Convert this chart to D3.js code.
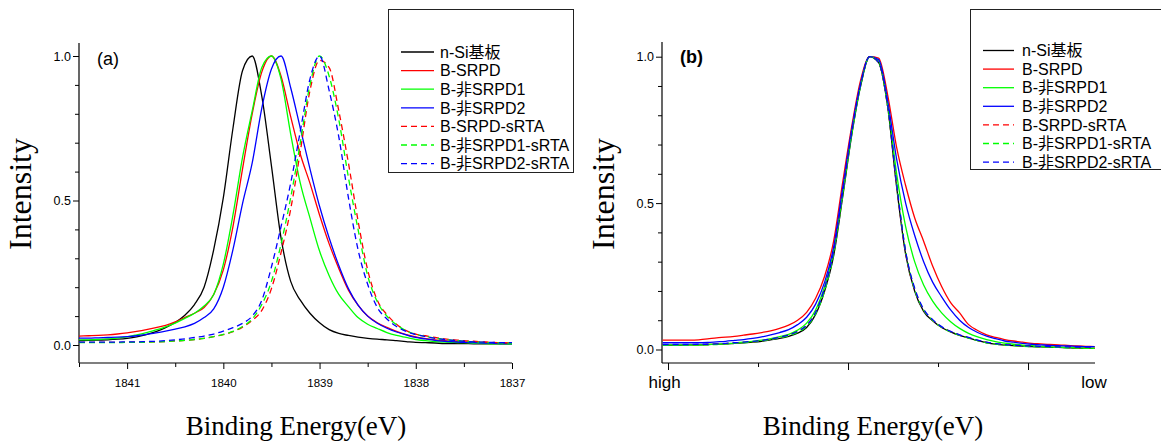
<!DOCTYPE html>
<html><head><meta charset="utf-8">
<script src="https://cdn.jsdelivr.net/npm/d3@7"></script>
<style>body{margin:0;background:#fff}svg{display:block}</style>
</head><body>
<svg id="chart" width="1161" height="446"></svg>
<script>
// ---------- data ----------
const seriesNames = ["n-Si基板","B-SRPD","B-非SRPD1","B-非SRPD2","B-SRPD-sRTA","B-非SRPD1-sRTA","B-非SRPD2-sRTA"];
const seriesColors = ["#000000","#ff0000","#00ff00","#0000ff","#ff0000","#00ff00","#0000ff"];
const seriesDashed = [false,false,false,false,true,true,true];

// panel (a): binding energy (eV)
const energyA = [1841.5,1841.4,1841.3,1841.2,1841.1,1841.0,1840.9,1840.8,1840.7,1840.6,1840.5,1840.4,1840.3,1840.2,1840.1,1840.0,1839.9,1839.8,1839.7,1839.6,1839.5,1839.4,1839.3,1839.2,1839.1,1839.0,1838.9,1838.8,1838.7,1838.6,1838.5,1838.4,1838.3,1838.2,1838.1,1838.0,1837.9,1837.8,1837.7,1837.6,1837.5,1837.4,1837.3,1837.2,1837.1,1837.0];
const nSiA = [0.015,0.016,0.017,0.018,0.020,0.023,0.028,0.036,0.046,0.060,0.078,0.103,0.140,0.200,0.330,0.510,0.750,0.950,1.000,0.860,0.620,0.370,0.220,0.155,0.110,0.077,0.053,0.040,0.033,0.027,0.023,0.020,0.018,0.015,0.012,0.009,0.008,0.007,0.005,0.005,0.005,0.004,0.004,0.004,0.004,0.004];
const srpdA = [0.031,0.032,0.033,0.035,0.038,0.042,0.047,0.053,0.060,0.068,0.080,0.095,0.110,0.130,0.175,0.26,0.41,0.61,0.80,0.945,1.0,0.93,0.79,0.66,0.56,0.45,0.35,0.265,0.19,0.138,0.10,0.077,0.061,0.047,0.036,0.028,0.022,0.018,0.015,0.013,0.011,0.010,0.009,0.008,0.007,0.007];
const hi1A = [0.018,0.018,0.019,0.021,0.024,0.028,0.035,0.043,0.052,0.063,0.076,0.092,0.110,0.135,0.175,0.28,0.45,0.65,0.81,0.96,1.0,0.92,0.73,0.56,0.44,0.325,0.24,0.175,0.133,0.095,0.072,0.057,0.043,0.033,0.026,0.019,0.015,0.012,0.010,0.009,0.008,0.006,0.005,0.004,0.004,0.003];
const hi2A = [0.024,0.024,0.025,0.026,0.027,0.029,0.032,0.037,0.042,0.048,0.055,0.063,0.075,0.095,0.125,0.20,0.33,0.49,0.63,0.82,0.955,1.0,0.89,0.75,0.61,0.48,0.37,0.275,0.195,0.138,0.10,0.075,0.058,0.045,0.035,0.026,0.021,0.016,0.013,0.011,0.009,0.008,0.007,0.006,0.005,0.005];
const srpdRtaA = [0.009,0.009,0.009,0.009,0.009,0.009,0.010,0.010,0.011,0.012,0.014,0.016,0.019,0.023,0.029,0.036,0.046,0.062,0.085,0.12,0.195,0.32,0.47,0.67,0.88,0.985,0.96,0.81,0.63,0.43,0.26,0.155,0.105,0.072,0.050,0.038,0.032,0.026,0.021,0.018,0.015,0.013,0.011,0.009,0.008,0.006];
const hi1RtaA = [0.008,0.008,0.008,0.008,0.008,0.009,0.009,0.010,0.011,0.012,0.014,0.016,0.019,0.023,0.029,0.037,0.047,0.064,0.09,0.14,0.22,0.35,0.51,0.70,0.90,1.0,0.93,0.78,0.58,0.40,0.24,0.15,0.10,0.070,0.049,0.037,0.030,0.024,0.019,0.016,0.013,0.011,0.009,0.008,0.007,0.006];
const hi2RtaA = [0.010,0.010,0.010,0.010,0.010,0.011,0.011,0.012,0.013,0.015,0.018,0.021,0.026,0.031,0.038,0.048,0.060,0.075,0.10,0.155,0.27,0.41,0.56,0.74,0.92,1.0,0.88,0.72,0.51,0.33,0.21,0.13,0.09,0.064,0.047,0.036,0.029,0.023,0.019,0.016,0.013,0.011,0.010,0.009,0.008,0.008];
const xTicksA = [1841.5,1841,1840.5,1840,1839.5,1839,1838.5,1838,1837.5,1837];
const xLabelsA = ["","1841","","1840","","1839","","1838","","1837"];

// panel (b): relative energy (peak-aligned), high -> low
const shiftB = [-0.06,0.04,0.14,0.24,0.34,0.44,0.54,0.64,0.74,0.84,0.94,1.04,1.14,1.24,1.34,1.44,1.54,1.64,1.74,1.84,1.94,2.04,2.14,2.24,2.34,2.44,2.54,2.64,2.74,2.84,2.94,3.04,3.14,3.24,3.34,3.44,3.54,3.64,3.74,3.84,3.94,4.04,4.14,4.24,4.34,4.44,4.54,4.64,4.74];
const nSiB = [0.015,0.015,0.015,0.016,0.016,0.017,0.018,0.019,0.021,0.023,0.025,0.028,0.033,0.038,0.045,0.056,0.075,0.12,0.2,0.32,0.52,0.73,0.9,1.0,0.98,0.83,0.555,0.325,0.2,0.13,0.098,0.075,0.06,0.048,0.039,0.03,0.023,0.018,0.015,0.013,0.012,0.01,0.009,0.008,0.007,0.006,0.005,0.005,0.004];
const srpdB = [0.032,0.032,0.032,0.032,0.033,0.036,0.04,0.042,0.045,0.049,0.053,0.058,0.064,0.072,0.083,0.1,0.127,0.175,0.25,0.37,0.57,0.76,0.92,1.0,0.995,0.87,0.69,0.56,0.45,0.37,0.285,0.215,0.16,0.125,0.085,0.065,0.05,0.041,0.034,0.029,0.025,0.021,0.019,0.017,0.016,0.014,0.012,0.011,0.01];
const hi1B = [0.016,0.016,0.016,0.016,0.016,0.017,0.018,0.02,0.022,0.025,0.028,0.032,0.037,0.044,0.052,0.066,0.09,0.135,0.215,0.335,0.53,0.735,0.905,1.0,0.985,0.84,0.6,0.42,0.3,0.22,0.165,0.125,0.095,0.072,0.055,0.043,0.034,0.027,0.022,0.018,0.015,0.013,0.011,0.009,0.008,0.007,0.006,0.005,0.004];
const hi2B = [0.023,0.023,0.023,0.023,0.023,0.024,0.026,0.028,0.031,0.034,0.038,0.043,0.05,0.058,0.068,0.085,0.11,0.155,0.23,0.35,0.55,0.75,0.91,1.0,0.99,0.85,0.65,0.5,0.39,0.3,0.23,0.18,0.135,0.1,0.075,0.058,0.046,0.037,0.029,0.025,0.021,0.018,0.016,0.014,0.013,0.012,0.011,0.01,0.01];
const srpdRtaB = [0.015,0.015,0.015,0.016,0.016,0.017,0.018,0.02,0.022,0.024,0.026,0.03,0.035,0.041,0.049,0.061,0.082,0.125,0.205,0.33,0.53,0.74,0.905,1.0,0.98,0.83,0.56,0.33,0.205,0.135,0.1,0.077,0.061,0.049,0.04,0.031,0.024,0.019,0.016,0.014,0.012,0.011,0.01,0.009,0.008,0.007,0.006,0.006,0.005];
const hi1RtaB = [0.014,0.014,0.014,0.015,0.015,0.016,0.017,0.019,0.021,0.023,0.026,0.029,0.034,0.04,0.047,0.059,0.079,0.122,0.2,0.325,0.525,0.735,0.9,1.0,0.98,0.83,0.565,0.335,0.205,0.135,0.1,0.076,0.06,0.048,0.039,0.03,0.023,0.018,0.015,0.013,0.011,0.01,0.009,0.008,0.007,0.006,0.005,0.004,0.004];
const hi2RtaB = [0.017,0.017,0.017,0.017,0.018,0.018,0.019,0.021,0.023,0.025,0.028,0.031,0.036,0.042,0.05,0.062,0.083,0.127,0.21,0.335,0.535,0.74,0.905,1.0,0.98,0.835,0.565,0.335,0.21,0.138,0.102,0.078,0.062,0.05,0.041,0.032,0.025,0.02,0.017,0.015,0.013,0.012,0.011,0.01,0.009,0.009,0.008,0.008,0.008];
const xTicksB = [0,1,2,3,4];
const xLabelsB = ["high","","","",""];
const xEndLabelB = "low";

const yTicks = [0,0.1,0.2,0.3,0.4,0.5,0.6,0.7,0.8,0.9,1.0];
const yLabels = ["0.0","","","","","0.5","","","","","1.0"];

// ---------- drawing ----------
const svg = d3.select("#chart");
const tickFont = '"Liberation Sans", Arial, sans-serif';
const legFont = '"Liberation Sans", Arial, "Noto Sans CJK JP", sans-serif';
const serif = '"Liberation Serif", "Times New Roman", serif';

function drawPanel(cfg) {
  const g = svg.append("g");
  const x = cfg.x, y = cfg.y;
  // y axis
  const yAxis = d3.axisLeft(y).tickValues(yTicks)
    .tickFormat((d, i) => yLabels[i]).tickSizeOuter(0);
  const ya = g.append("g").attr("transform", `translate(${cfg.left},0)`).call(yAxis);
  ya.select(".domain").remove();
  ya.selectAll(".tick line").attr("x2", (d, i) => yLabels[i] ? -6 : -4).attr("stroke", "#000");
  ya.selectAll(".tick text").attr("x", -8).attr("font-size", 12.5).attr("font-family", tickFont).attr("fill", "#000");
  g.append("line").attr("x1", cfg.left).attr("x2", cfg.left).attr("y1", cfg.axTop).attr("y2", cfg.axBottom).attr("stroke", "#000").attr("stroke-width", 1.2);
  // x axis
  const xAxis = d3.axisBottom(x).tickValues(cfg.xTicks)
    .tickFormat((d, i) => cfg.xLabels[i]).tickSizeOuter(0);
  const xa = g.append("g").attr("transform", `translate(0,${cfg.axBottom})`).call(xAxis);
  xa.select(".domain").remove();
  xa.selectAll(".tick line").attr("y2", (d, i) => cfg.major(d) ? cfg.majorLen : 4).attr("stroke", "#000");
  xa.selectAll(".tick text").attr("y", cfg.labelY).attr("dy", 0).attr("font-size", cfg.xFont).attr("font-family", tickFont).attr("fill", "#000").attr("dx", cfg.labelDx || 0);
  g.append("line").attr("x1", cfg.left).attr("x2", x.range()[1]).attr("y1", cfg.axBottom).attr("y2", cfg.axBottom).attr("stroke", "#000").attr("stroke-width", 1.2);
  if (cfg.endLabel) {
    g.append("text").attr("x", x.range()[1] - 1).attr("y", cfg.axBottom + cfg.labelY)
      .attr("text-anchor", "middle").attr("font-size", cfg.xFont).attr("font-family", tickFont).text(cfg.endLabel);
  }
  // curves
  const line = d3.line().x(d => x(d[0])).y(d => y(d[1])).curve(d3.curveMonotoneX);
  cfg.series.forEach((vals, i) => {
    const pts = cfg.xs.map((xv, j) => [xv, vals[j]]);
    g.append("path").datum(pts).attr("d", line).attr("fill", "none")
      .attr("stroke", seriesColors[i]).attr("stroke-width", 1.3)
      .attr("stroke-dasharray", seriesDashed[i] ? "6,4" : null);
  });
  // panel letter
  g.append("text").attr("x", cfg.tagX).attr("y", cfg.tagY).attr("font-size", 18)
    .attr("font-family", tickFont).attr("font-weight", cfg.tagBold ? "bold" : "normal").text(cfg.tag);
  // titles
  g.append("text").attr("transform", `translate(${cfg.yTitleX},194) rotate(-90)`)
    .attr("text-anchor", "middle").attr("font-family", serif).attr("font-size", 32).text("Intensity");
  g.append("text").attr("x", cfg.xTitleX).attr("y", 435).attr("text-anchor", "middle")
    .attr("font-family", serif).attr("font-size", 27).text("Binding Energy(eV)");
  // legend
  const lg = g.append("g");
  lg.append("rect").attr("x", cfg.leg.x).attr("y", 9.5).attr("width", cfg.leg.w).attr("height", cfg.leg.h)
    .attr("fill", "#fff").attr("stroke", "#222").attr("stroke-width", 1);
  seriesNames.forEach((name, i) => {
    const ry = cfg.leg.row0 + i * 18.6;
    lg.append("line").attr("x1", cfg.leg.l1).attr("x2", cfg.leg.l2).attr("y1", ry).attr("y2", ry)
      .attr("stroke", seriesColors[i]).attr("stroke-width", 1.3)
      .attr("stroke-dasharray", seriesDashed[i] ? "6,4" : null);
    lg.append("text").attr("x", cfg.leg.tx).attr("y", ry).attr("dy", "0.36em")
      .attr("font-size", 16).attr("font-family", legFont).text(name);
  });
}

const yA = d3.scaleLinear().domain([0, 1]).range([345, 56]);
const xA = d3.scaleLinear().domain([1841.5, 1837]).range([79, 512]);
drawPanel({
  x: xA, y: yA, left: 79, axTop: 43, axBottom: 363,
  xTicks: xTicksA, xLabels: xLabelsA, major: d => Number.isInteger(d), majorLen: 6,
  labelY: 24, xFont: 11.5, xs: energyA,
  series: [nSiA, srpdA, hi1A, hi2A, srpdRtaA, hi1RtaA, hi2RtaA],
  tag: "(a)", tagX: 97, tagY: 65, tagBold: false,
  yTitleX: 31, xTitleX: 296,
  leg: {x: 388.5, w: 185, h: 163, row0: 52, l1: 401, l2: 434, tx: 440}
});

const yB = d3.scaleLinear().domain([0, 1]).range([349.5, 56.7]);
const xB = d3.scaleLinear().domain([-0.067, 4.744]).range([662, 1095]);
drawPanel({
  x: xB, y: yB, left: 662, axTop: 42, axBottom: 363,
  xTicks: xTicksB, xLabels: xLabelsB, major: d => d % 2 === 0, majorLen: 7,
  labelY: 25, xFont: 17, xs: shiftB, labelDx: -4, endLabel: xEndLabelB,
  series: [nSiB, srpdB, hi1B, hi2B, srpdRtaB, hi1RtaB, hi2RtaB],
  tag: "(b)", tagX: 680, tagY: 63, tagBold: true,
  yTitleX: 614, xTitleX: 873,
  leg: {x: 970.5, w: 200, h: 160, row0: 50.5, l1: 983, l2: 1014, tx: 1022}
});
</script>
</body></html>
